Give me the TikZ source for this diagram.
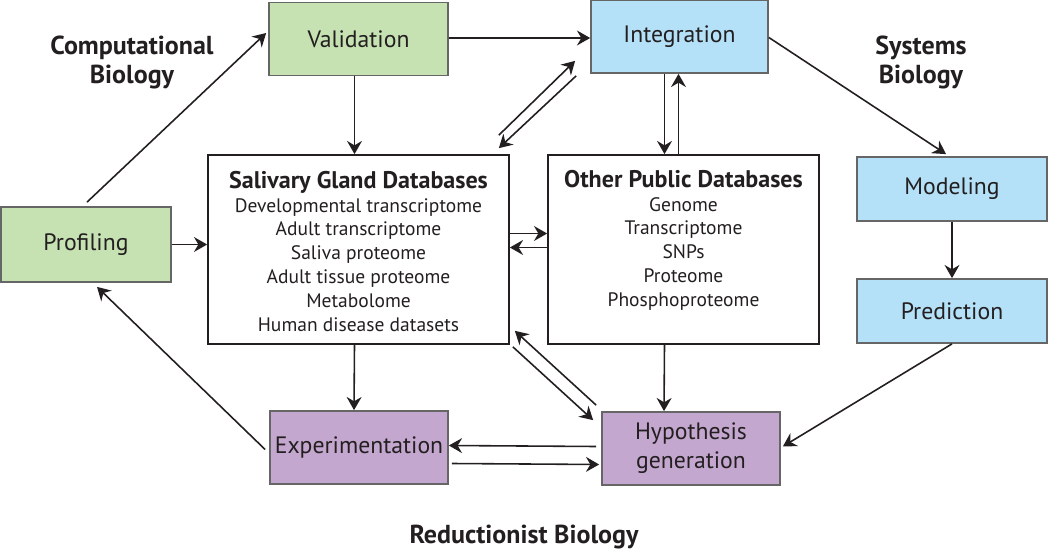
\documentclass[tikz,border=0pt]{standalone}
\usepackage{fontspec}
\setmainfont{PT Sans}
\usetikzlibrary{arrows.meta,calc}
\definecolor{compgreen}{RGB}{198,225,178}
\definecolor{sysblue}{RGB}{180,225,247}
\definecolor{redviolet}{RGB}{196,167,207}
\definecolor{inkblack}{RGB}{35,31,32}
\begin{document}
\begin{tikzpicture}[x=0.02cm, y=-0.02cm, line width=0.9pt, inkblack,
  every node/.style={inner sep=0pt, align=center, text=inkblack},
  stage/.style={draw=black!60, line width=1pt, minimum height=1.46cm,
    font=\fontsize{13.5}{16}\selectfont},
  dbbox/.style={draw=inkblack, line width=1pt, minimum height=3.78cm},
  dbtext/.style={anchor=north, font=\fontsize{11.1}{13.6}\selectfont},
  field/.style={font=\bfseries\fontsize{14.8}{16.5}\selectfont},
  arr/.style={-{Stealth[length=7.5pt, width=8.5pt, inset=2.5pt]}}]
\useasboundingbox (0,0) rectangle (1050,550);

\node[stage, fill=compgreen, minimum width=3.58cm] (val) at (358.5,39) {Validation};
\node[stage, fill=sysblue, minimum width=3.54cm] (integ) at (679.5,36.5) {Integration};
\node[stage, fill=compgreen, minimum width=3.4cm, minimum height=1.5cm] (prof) at (86,244.5) {Profiling};
\node[dbbox, minimum width=6.02cm] (sgdb) at (358.5,249.5) {};
\node[dbbox, minimum width=5.42cm] (opdb) at (683.5,249.5) {};
\node[stage, fill=sysblue, minimum width=3.8cm, minimum height=1.28cm] (model) at (952,189) {Modeling};
\node[stage, fill=sysblue, minimum width=3.8cm, minimum height=1.28cm] (pred) at (952,311) {Prediction};
\node[stage, fill=redviolet, minimum width=3.56cm] (exper) at (359,447.5) {Experimentation};
\node[stage, fill=redviolet, minimum width=3.56cm, font=\fontsize{13.5}{16.5}\selectfont] (hyp) at (691,448.5) {Hypothesis\\generation};

\node[dbtext] (sgtxt) at ($(sgdb.north)+(0,16)$) {{\bfseries\fontsize{13.7}{13.6}\selectfont Salivary Gland Databases}\\
  Developmental transcriptome\\ Adult transcriptome\\ Saliva proteome\\
  Adult tissue proteome\\ Metabolome\\ Human disease datasets};
\node[dbtext] (optxt) at ($(opdb.north)+(0,15)$) {{\bfseries\fontsize{13.7}{13.6}\selectfont Other Public Databases}\\
  Genome\\ Transcriptome\\ SNPs\\ Proteome\\ Phosphoproteome};

\node[field] (comp) at (132,62) {Computational\\Biology};
\node[field] (sys) at (921,62) {Systems\\Biology};
\node[field] (red) at (524,537) {Reductionist Biology};

\draw[arr] ($(prof.north)+(1,-4)$) -- ($(val.west)+(-2,-6)$);
\draw[arr] ($(val.south)+(-4,0)$) -- ($(sgdb.north)+(-4,0)$);
\draw[arr] ($(val.east)+(0,-1)$) -- ($(integ.west)+(0,1.5)$);
\draw[arr] ($(integ.east)+(0,1)$) -- ($(model.north)+(-6,-2)$);
\draw[arr] ($(sgdb.north east)+(-11,-19)$) -- ($(integ.south west)+(-15,-13)$);
\draw[arr] ($(integ.south west)+(-14,2)$) -- ($(sgdb.north east)+(-11,-6)$);
\draw[arr] ($(integ.south)+(-15,0)$) -- ($(opdb.north)+(-19,0)$);
\draw[arr] ($(opdb.north)+(-5,0)$) -- ($(integ.south)+(-1,0)$);
\draw[arr] ($(sgdb.east)+(0,-16)$) -- ($(opdb.west)+(0,-16)$);
\draw[arr] ($(opdb.west)+(0,-2)$) -- ($(sgdb.east)+(0,-2)$);
\draw[arr] (prof.east) -- (prof.east -| sgdb.west);
\draw[arr] ($(exper.west)+(-4,2)$) -- ($(prof.south)+(11,4)$);
\draw[arr] ($(sgdb.south)+(-4,0)$) -- ($(exper.north)+(-5,0)$);
\draw[arr] ($(sgdb.south east)+(3,2)$) -- ($(hyp.north west)+(-8,9)$);
\draw[arr] ($(hyp.north west)+(-5,-6)$) -- ($(sgdb.south east)+(5,-14)$);
\draw[arr] ($(opdb.south)+(-19,0)$) -- ($(hyp.north)+(-27,0)$);
\draw[arr] (pred.south) -- ($(hyp.east)+(2,-2)$);
\draw[arr] ($(hyp.west)+(-5,-2)$) -- ($(exper.east)+(0,-2)$);
\draw[arr] ($(exper.east)+(3,16)$) -- ($(hyp.west)+(-2,16)$);
\draw[arr] (model.south) -- (pred.north);
\end{tikzpicture}
\end{document}
